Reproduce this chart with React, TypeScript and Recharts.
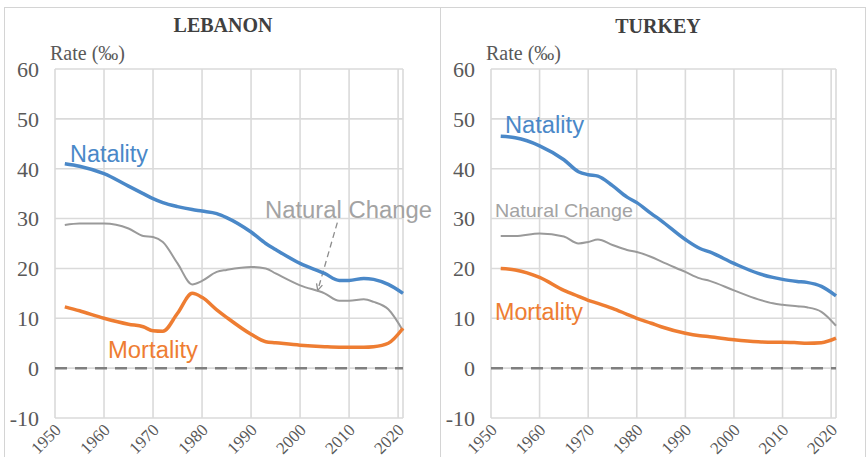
import React from "react";
import {
  LineChart,
  Line,
  XAxis,
  YAxis,
  CartesianGrid,
  ReferenceLine,
} from "recharts";

const YEARS = [
  1952, 1955, 1960, 1965, 1968, 1970, 1972, 1975, 1978, 1980, 1983, 1985,
  1990, 1993, 1995, 2000, 2005, 2008, 2010, 2013, 2015, 2018, 2021,
];

const LEBANON_NATALITY = [
  41, 40.5, 39, 36.5, 35, 34, 33.2, 32.4, 31.8, 31.5, 31, 30.2, 27.3, 25,
  23.8, 21, 19, 17.6, 17.6, 18, 17.8, 16.8, 15,
];
const LEBANON_NATURAL = [
  28.7, 29, 29, 28, 26.5, 26.3, 25.3, 21, 16.8, 17.5, 19.3, 19.7, 20.3, 20,
  19, 16.6, 15, 13.5, 13.5, 13.8, 13.3, 11.8, 7.5,
];
const LEBANON_MORTALITY = [
  12.3, 11.5, 10, 8.8, 8.3, 7.5, 7.4, 11, 15, 14.2, 11.7, 10.2, 6.8, 5.3,
  5.1, 4.6, 4.3, 4.2, 4.2, 4.2, 4.3, 5, 8,
];

const TURKEY_NATALITY = [
  46.5, 46.2, 44.6, 41.8, 39.4, 38.8, 38.5, 36.6, 34.3, 33.2, 31, 29.6, 25.8,
  24, 23.3, 21, 19, 18.2, 17.8, 17.4, 17.2, 16.4, 14.5,
];
const TURKEY_NATURAL = [
  26.5, 26.5, 27, 26.4, 25, 25.3, 25.8, 24.7, 23.7, 23.3, 22.3, 21.4, 19.3,
  18, 17.5, 15.6, 13.8, 13, 12.7, 12.4, 12.2, 11.3, 8.5,
];
const TURKEY_MORTALITY = [
  20, 19.7, 18.2, 15.6, 14.4, 13.6, 13, 12, 10.8, 10, 9, 8.3, 7, 6.5, 6.3,
  5.7, 5.3, 5.2, 5.2, 5.1, 5, 5.1, 6,
];

const X_TICKS = [1950, 1960, 1970, 1980, 1990, 2000, 2010, 2020];
const Y_TICKS = [-10, 0, 10, 20, 30, 40, 50, 60];

const BLUE = "#4a88c8";
const ORANGE = "#ee7d32";
const GRAY_LINE = "#9a9a9a";
const GRAY_LABEL = "#a3a3a3";
const TICK = "#595959";
const GRID = "#dadada";
const SERIF = '"Liberation Serif", "Times New Roman", serif';
const SANS = '"Liberation Sans", Arial, sans-serif';

function buildRows(natality: number[], natural: number[], mortality: number[]) {
  return YEARS.map((year, i) => ({
    year,
    natality: natality[i],
    natural: natural[i],
    mortality: mortality[i],
  }));
}

const lebanonRows = buildRows(LEBANON_NATALITY, LEBANON_NATURAL, LEBANON_MORTALITY);
const turkeyRows = buildRows(TURKEY_NATALITY, TURKEY_NATURAL, TURKEY_MORTALITY);

function YearTick({ x, y, payload }: any) {
  return (
    <g transform={`translate(${x + 7},${y + 13})`}>
      <text
        x={0}
        y={0}
        textAnchor="end"
        transform="rotate(-45)"
        fontSize={17}
        fontFamily={SERIF}
        fill={TICK}
      >
        {payload.value}
      </text>
    </g>
  );
}

function ArrowShape({ x1, y1, x2, y2 }: any) {
  const ang = Math.atan2(y2 - y1, x2 - x1);
  const len = 7;
  const a1 = ang + Math.PI - 0.45;
  const a2 = ang + Math.PI + 0.45;
  return (
    <g>
      <line
        x1={x1}
        y1={y1}
        x2={x2}
        y2={y2}
        stroke="#8c8c8c"
        strokeWidth={1.3}
        strokeDasharray="6 4"
      />
      <path
        d={`M${x2 + len * Math.cos(a1)},${y2 + len * Math.sin(a1)} L${x2},${y2} L${
          x2 + len * Math.cos(a2)
        },${y2 + len * Math.sin(a2)}`}
        fill="none"
        stroke="#8c8c8c"
        strokeWidth={1.3}
      />
    </g>
  );
}

interface PanelProps {
  rows: ReturnType<typeof buildRows>;
  width: number;
  yWidth: number;
  right: number;
  arrow?: boolean;
}

function Panel({ rows, width, yWidth, right, arrow }: PanelProps) {
  return (
    <LineChart
      width={width}
      height={457}
      data={rows}
      margin={{ top: 69, right, bottom: 0, left: 0 }}
    >
      <CartesianGrid stroke={GRID} strokeWidth={1.6} />
      <XAxis
        type="number"
        dataKey="year"
        domain={[1950, 2021]}
        ticks={X_TICKS}
        tick={<YearTick />}
        tickLine={false}
        axisLine={false}
        tickSize={0}
        tickMargin={0}
        height={39}
        interval={0}
      />
      <YAxis
        type="number"
        domain={[-10, 60]}
        ticks={Y_TICKS}
        width={yWidth}
        tickLine={false}
        axisLine={false}
        tickSize={0}
        tickMargin={16}
        interval={0}
        tick={{ fontSize: 22, fontFamily: SERIF, fill: TICK }}
      />
      <ReferenceLine
        y={0}
        stroke="#7f7f7f"
        strokeWidth={2.5}
        strokeDasharray="12 8"
      />
      {arrow && (
        <ReferenceLine
          segment={[
            { x: 2007.6, y: 29.2 },
            { x: 2003.6, y: 15.6 },
          ]}
          shape={<ArrowShape />}
        />
      )}
      <Line
        type="monotone"
        dataKey="natural"
        stroke={GRAY_LINE}
        strokeWidth={2}
        dot={false}
        isAnimationActive={false}
      />
      <Line
        type="monotone"
        dataKey="mortality"
        stroke={ORANGE}
        strokeWidth={3.5}
        dot={false}
        isAnimationActive={false}
      />
      <Line
        type="monotone"
        dataKey="natality"
        stroke={BLUE}
        strokeWidth={3.5}
        dot={false}
        isAnimationActive={false}
      />
    </LineChart>
  );
}

export default function App() {
  return (
    <div
      style={{
        position: "absolute",
        left: 0,
        top: 0,
        width: 868,
        height: 457,
        background: "#fff",
        overflow: "hidden",
      }}
    >
      <div
        style={{
          position: "absolute",
          left: 4,
          top: 7,
          width: 862,
          height: 452,
          border: "1px solid #d4d4d4",
          boxSizing: "border-box",
        }}
      />
      <div
        style={{
          position: "absolute",
          left: 440,
          top: 7,
          width: 1,
          height: 452,
          background: "#d4d4d4",
        }}
      />
      <div style={{ position: "absolute", left: 0, top: 0 }}>
        <Panel rows={lebanonRows} width={440} yWidth={55} right={37} arrow />
      </div>
      <div style={{ position: "absolute", left: 440, top: 0 }}>
        <Panel rows={turkeyRows} width={428} yWidth={51} right={32} />
      </div>
      <svg
        width={868}
        height={457}
        style={{ position: "absolute", left: 0, top: 0, pointerEvents: "none" }}
      >
        <g fontFamily={SERIF} fontWeight="bold" fontSize={20} fill="#404040" textAnchor="middle">
          <text x={223} y={32}>LEBANON</text>
          <text x={658} y={33}>TURKEY</text>
        </g>
        <g fontFamily={SERIF} fontSize={20} fill={TICK}>
          <text x={50} y={60}>Rate (‰)</text>
          <text x={486} y={60}>Rate (‰)</text>
        </g>
        <g fontFamily={SANS} fontSize={23}>
          <text x={70} y={162} fill={BLUE} textLength={78} lengthAdjust="spacingAndGlyphs">Natality</text>
          <text x={265} y={218} fill={GRAY_LABEL} textLength={167} lengthAdjust="spacingAndGlyphs">Natural Change</text>
          <text x={108} y={358} fill={ORANGE} textLength={90} lengthAdjust="spacingAndGlyphs">Mortality</text>
          <text x={505} y={133} fill={BLUE} textLength={79} lengthAdjust="spacingAndGlyphs">Natality</text>
          <text x={495} y={217} fill={GRAY_LABEL} fontSize={19} textLength={138} lengthAdjust="spacingAndGlyphs">Natural Change</text>
          <text x={495} y={320} fill={ORANGE} textLength={88} lengthAdjust="spacingAndGlyphs">Mortality</text>
        </g>
      </svg>
    </div>
  );
}
